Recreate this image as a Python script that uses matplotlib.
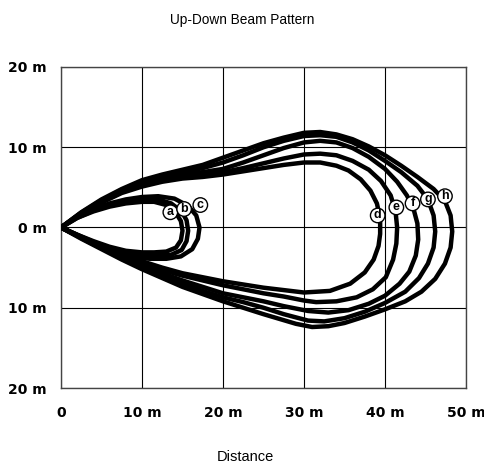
import matplotlib
matplotlib.use("Agg")
import matplotlib.pyplot as plt

# beam pattern contours (metres)
a_x = [0, 2, 4, 6, 8, 10, 11.5, 13, 14.2, 14.8, 15.0, 14.8, 14.2, 13, 11.5, 10, 8, 6, 4, 2, 0]
a_y = [0, 1.2, 2.0, 2.6, 3.0, 3.2, 3.2, 2.8, 1.8, 0.8, -0.4, -1.6, -2.5, -3.0, -3.1, -3.1, -2.9, -2.4, -1.7, -0.9, 0]

b_x = [0, 2, 4, 6, 8, 10, 12, 13.6, 14.9, 15.5, 15.7, 15.5, 14.9, 13.6, 12, 10, 8, 6, 4, 2, 0]
b_y = [0, 1.2, 2.1, 2.8, 3.2, 3.5, 3.5, 3.0, 2.0, 0.9, -0.4, -1.7, -2.8, -3.4, -3.5, -3.5, -3.2, -2.6, -1.8, -0.9, 0]

c_x = [0, 2, 4, 6, 8, 10, 12, 14, 15.7, 16.7, 17.1, 16.9, 16.2, 14.8, 13, 11, 9, 7, 5, 2.5, 0]
c_y = [0, 1.3, 2.3, 3.0, 3.5, 3.8, 3.9, 3.6, 2.7, 1.5, 0, -1.4, -2.7, -3.6, -3.9, -3.9, -3.7, -3.2, -2.5, -1.2, 0]

d_x = [0, 2.5, 5, 7.5, 10, 12.5, 15, 17.5, 20, 22.5, 25, 27.5, 30, 32, 34, 35.5, 37, 38.2, 39.0, 39.4,
       39.4, 39.2, 38.6, 37.5, 35.7, 33.2, 30, 27.5, 25, 22.5, 20, 17.5, 15, 12.5, 10, 7.5, 5, 2.5, 0]
d_y = [0, 1.7, 3.1, 4.3, 5.1, 5.7, 6.1, 6.3, 6.6, 7.0, 7.4, 7.8, 8.1, 8.1, 7.7, 7.1, 6.0, 4.6, 3.0, 1.2,
       -0.8, -2.3, -4.0, -5.6, -7.0, -7.9, -8.1, -7.8, -7.5, -7.1, -6.7, -6.2, -5.7, -5.0, -4.2, -3.3, -2.3, -1.2, 0]

e_x = [0, 2.5, 5, 7.5, 10, 12.5, 15, 17.5, 20, 22.5, 25, 27.5, 30, 32, 34, 36, 38, 39.5, 40.7, 41.3, 41.5,
       41.4, 41.0, 40.1, 38.5, 36.5, 34, 31.5, 30, 27.5, 25, 22.5, 20, 17.5, 15, 12.5, 10, 7.5, 5, 2.5, 0]
e_y = [0, 1.75, 3.2, 4.4, 5.3, 5.9, 6.3, 6.6, 6.9, 7.4, 8.0, 8.6, 9.1, 9.2, 9.0, 8.3, 7.2, 5.8, 4.0, 2.0, 0,
       -2.0, -4.0, -6.2, -7.7, -8.7, -9.2, -9.3, -9.1, -8.6, -8.2, -7.7, -7.2, -6.6, -6.0, -5.3, -4.4, -3.5, -2.4, -1.2, 0]

f_x = [0, 2.5, 5, 7.5, 10, 12.5, 15, 17.5, 20, 22.5, 25, 27.5, 30, 32, 34, 36, 38, 40, 41.5, 42.7, 43.5, 44.0,
       44.1, 43.8, 43.0, 41.8, 40, 38, 35.5, 33, 30.5, 27.5, 25, 22.5, 20, 17.5, 15, 12.5, 10, 7.5, 5, 2.5, 0]
f_y = [0, 1.8, 3.3, 4.6, 5.5, 6.1, 6.6, 6.9, 7.3, 8.1, 9.0, 9.9, 10.6, 10.8, 10.6, 9.9, 8.8, 7.3, 5.7, 4.0, 2.4, 0.5,
       -1.5, -3.5, -5.5, -7.0, -8.5, -9.5, -10.3, -10.6, -10.4, -9.8, -9.2, -8.7, -8.2, -7.4, -6.6, -5.7, -4.7, -3.7, -2.5, -1.3, 0]

g_x = [0, 2.5, 5, 7.5, 10, 12.5, 15, 17.5, 20, 22.5, 25, 27.5, 30, 32, 34, 36, 38, 40, 42, 44, 45.3, 46.0,
       46.2, 46.0, 45.3, 44.2, 42.5, 40, 37.5, 35, 32.5, 30.5, 27.5, 25, 22.5, 20, 17.5, 15, 12.5, 10, 7.5, 5, 2.5, 0]
g_y = [0, 1.85, 3.4, 4.7, 5.7, 6.4, 6.9, 7.4, 8.1, 9.0, 10.0, 10.8, 11.4, 11.5, 11.3, 10.6, 9.6, 8.3, 6.9, 5.2, 3.5, 1.5,
       -0.5, -2.5, -4.5, -6.3, -8.0, -9.4, -10.5, -11.3, -11.7, -11.6, -10.8, -10.0, -9.3, -8.7, -7.9, -7.0, -6.0, -4.9, -3.8, -2.6, -1.3, 0]

h_x = [0, 2.5, 5, 7.5, 10, 12.5, 15, 17.5, 20, 22.5, 25, 27.5, 30, 32, 34, 36, 38, 40, 42, 44, 46, 47.4, 48.1,
       48.3, 48.1, 47.4, 46.2, 44.5, 42.5, 40, 37.5, 35, 33, 31, 29, 27, 25, 22.5, 20, 17.5, 15, 12.5, 10, 7.5, 5, 2.5, 0]
h_y = [0, 1.9, 3.5, 4.8, 5.9, 6.6, 7.2, 7.8, 8.7, 9.6, 10.5, 11.2, 11.8, 11.9, 11.6, 11.0, 10.1, 9.0, 7.7, 6.3, 4.8, 3.3, 1.5,
       -0.5, -2.5, -4.5, -6.4, -8.0, -9.2, -10.2, -11.1, -11.9, -12.3, -12.4, -12.0, -11.4, -10.8, -10.0, -9.2, -8.3, -7.4, -6.3, -5.2, -4.0, -2.7, -1.4, 0]

curve_names = ["a", "b", "c", "d", "e", "f", "g", "h"]
curve_xs = [a_x, b_x, c_x, d_x, e_x, f_x, g_x, h_x]
curve_ys = [a_y, b_y, c_y, d_y, e_y, f_y, g_y, h_y]

# where each letter marker sits on its contour
label_x = [13.5, 15.2, 17.2, 39.1, 41.4, 43.4, 45.3, 47.4]
label_y = [1.9, 2.3, 2.8, 1.5, 2.5, 3.0, 3.5, 3.9]

x_ticks = [0, 10, 20, 30, 40, 50]
x_tick_labels = ["0", "10 m", "20 m", "30 m", "40 m", "50 m"]
y_ticks = [-20, -10, 0, 10, 20]
y_tick_labels = ["20 m", "10 m", "0 m", "10 m", "20 m"]

plt.rcParams["font.family"] = ["Liberation Sans", "DejaVu Sans"]

fig = plt.figure(figsize=(4.85, 4.7), dpi=100)
ax = fig.add_axes([61 / 485, 82 / 470, 405 / 485, 321 / 470])

for xs, ys in zip(curve_xs, curve_ys):
    ax.plot(xs, ys, color="black", lw=3.2, solid_joinstyle="round",
            solid_capstyle="round", zorder=3)

for name, lx, ly in zip(curve_names, label_x, label_y):
    ax.text(lx, ly, name, ha="center", va="center", fontsize=9, fontweight="bold",
            zorder=5,
            bbox=dict(boxstyle="circle,pad=0.1", fc="white", ec="black", lw=1.0))

ax.set_xlim(0, 50)
ax.set_ylim(-20, 20)
ax.set_xticks(x_ticks)
ax.set_xticklabels(x_tick_labels, fontsize=10, fontweight="bold", family="DejaVu Sans")
ax.set_yticks(y_ticks)
ax.set_yticklabels(y_tick_labels, fontsize=10, fontweight="bold", family="DejaVu Sans")
ax.tick_params(axis="x", length=0, pad=13)
ax.tick_params(axis="y", length=0, pad=10)
ax.grid(True, color="black", lw=0.8)
ax.set_axisbelow(True)
for sp in ax.spines.values():
    sp.set_color("#444444")
    sp.set_linewidth(1.0)

fig.text(0.5, 1 - 20 / 470, "Up-Down Beam Pattern", ha="center", va="center", fontsize=9.8)
fig.text(0.505, 1 - 457 / 470, "Distance", ha="center", va="center", fontsize=10.5)

fig.savefig("out.png", dpi=100)
